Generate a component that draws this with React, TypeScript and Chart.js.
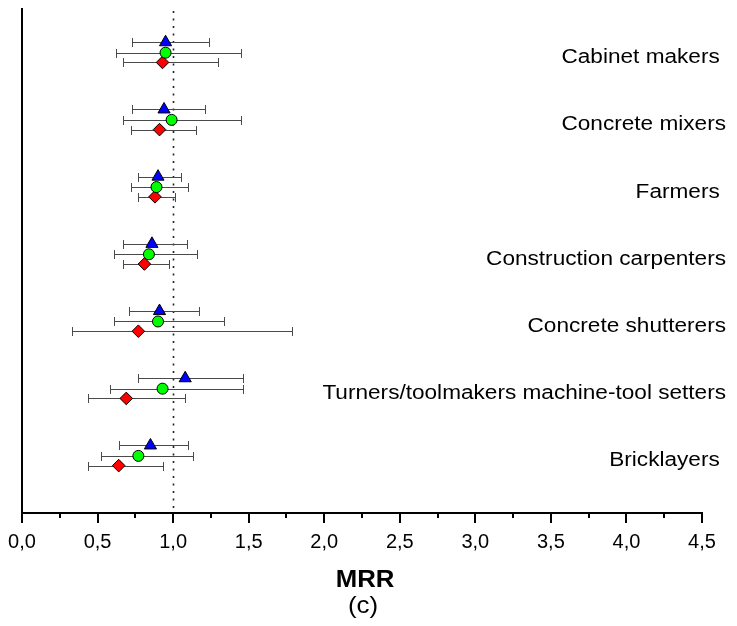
import { useEffect, useRef } from "react";
import { Chart, registerables } from "chart.js";

Chart.register(...registerables);

// Categories, top to bottom (trailing spaces as in the original labels)
const categories = [
  "Cabinet makers ",
  "Concrete mixers",
  "Farmers ",
  "Construction carpenters",
  "Concrete shutterers",
  "Turners/toolmakers machine-tool setters",
  "Bricklayers ",
];

// Blue triangles
const triangleMRR = [0.95, 0.94, 0.9, 0.86, 0.91, 1.08, 0.85];
const triangleLow = [0.73, 0.73, 0.77, 0.67, 0.71, 0.77, 0.64];
const triangleHigh = [1.24, 1.21, 1.05, 1.09, 1.17, 1.46, 1.1];

// Green circles
const circleMRR = [0.95, 0.99, 0.89, 0.84, 0.9, 0.93, 0.77];
const circleLow = [0.62, 0.67, 0.72, 0.61, 0.61, 0.58, 0.52];
const circleHigh = [1.45, 1.45, 1.1, 1.16, 1.34, 1.46, 1.13];

// Red diamonds
const diamondMRR = [0.93, 0.91, 0.88, 0.81, 0.77, 0.69, 0.64];
const diamondLow = [0.67, 0.72, 0.77, 0.67, 0.33, 0.44, 0.44];
const diamondHigh = [1.3, 1.15, 1.01, 0.97, 1.79, 1.08, 0.93];

const xMin = 0;
const xMax = 4.5;
const xStep = 0.5;
const referenceMRR = 1.0;
const xTitle = "MRR";
const panelLabel = "(c)";

const FONT = "'Liberation Sans', Arial, Helvetica, sans-serif";

function catY(i: number) {
  return categories.length - 1 - i;
}

function buildPoints(vals: number[], lo: number[], hi: number[], off: number) {
  return vals.map((v, i) => ({ x: v, y: catY(i) + off, lo: lo[i], hi: hi[i] }));
}

const extrasPlugin = {
  id: "extras",
  beforeDatasetsDraw(chart: any) {
    const { ctx, chartArea, scales } = chart;
    const xs = scales.x;
    const ys = scales.y;
    // dotted reference line
    ctx.save();
    ctx.strokeStyle = "#222";
    ctx.lineWidth = 1.6;
    ctx.setLineDash([2, 5.5]);
    const rx = Math.round(xs.getPixelForValue(referenceMRR)) + 0.5;
    ctx.beginPath();
    ctx.moveTo(rx, chartArea.top + 2);
    ctx.lineTo(rx, chartArea.bottom);
    ctx.stroke();
    ctx.restore();

    // error bars
    ctx.save();
    ctx.strokeStyle = "#4a4a4a";
    ctx.lineWidth = 1;
    chart.data.datasets.forEach((ds: any) => {
      ds.data.forEach((p: any) => {
        const y = Math.round(ys.getPixelForValue(p.y)) + 0.5;
        const x1 = Math.round(xs.getPixelForValue(p.lo)) + 0.5;
        const x2 = Math.round(xs.getPixelForValue(p.hi)) + 0.5;
        ctx.beginPath();
        ctx.moveTo(x1, y);
        ctx.lineTo(x2, y);
        ctx.moveTo(x1, y - 4.5);
        ctx.lineTo(x1, y + 4.5);
        ctx.moveTo(x2, y - 4.5);
        ctx.lineTo(x2, y + 4.5);
        ctx.stroke();
      });
    });
    ctx.restore();
  },
  afterDraw(chart: any) {
    const { ctx, chartArea, scales } = chart;
    const xs = scales.x;
    const ys = scales.y;
    // minor ticks
    ctx.save();
    ctx.strokeStyle = "#000";
    ctx.lineWidth = 2;
    for (let v = xMin + xStep / 2; v < xMax; v += xStep) {
      const x = Math.round(xs.getPixelForValue(v));
      ctx.beginPath();
      ctx.moveTo(x, chartArea.bottom);
      ctx.lineTo(x, chartArea.bottom + 5);
      ctx.stroke();
    }
    ctx.restore();

    // category labels
    ctx.save();
    ctx.fillStyle = "#000";
    ctx.font = `20px ${FONT}`;
    ctx.textAlign = "right";
    ctx.textBaseline = "middle";
    categories.forEach((c, i) => {
      const y = ys.getPixelForValue(catY(i)) + 5;
      ctx.save();
      ctx.translate(718, y);
      ctx.scale(1.13, 1);
      ctx.fillText(c, 0, 0);
      ctx.restore();
    });

    // axis title and panel label
    const cx = (chartArea.left + chartArea.right) / 2 + 3;
    ctx.textAlign = "center";
    ctx.save();
    ctx.translate(cx, 573);
    ctx.scale(1.12, 1);
    ctx.font = `bold 23px ${FONT}`;
    ctx.fillText(xTitle, 0, 0);
    ctx.restore();
    ctx.save();
    ctx.translate(cx - 2, 598);
    ctx.scale(1.08, 1);
    ctx.font = `24px ${FONT}`;
    ctx.fillText(panelLabel, 0, 0);
    ctx.restore();
    ctx.restore();
  },
};

export default function App() {
  const ref = useRef<HTMLCanvasElement | null>(null);
  useEffect(() => {
    if (!ref.current) return;
    const chart = new Chart(ref.current, {
      type: "scatter",
      data: {
        datasets: [
          {
            label: "triangle",
            data: buildPoints(triangleMRR, triangleLow, triangleHigh, 0.155),
            pointStyle: "triangle",
            pointRadius: 7,
            backgroundColor: "#0000ff",
            borderColor: "#000",
            borderWidth: 1,
          },
          {
            label: "circle",
            data: buildPoints(circleMRR, circleLow, circleHigh, 0),
            pointStyle: "circle",
            pointRadius: 5.5,
            backgroundColor: "#00ff00",
            borderColor: "#000",
            borderWidth: 1,
          },
          {
            label: "diamond",
            data: buildPoints(diamondMRR, diamondLow, diamondHigh, -0.145),
            pointStyle: "rectRot",
            pointRadius: 6.3,
            backgroundColor: "#ff0000",
            borderColor: "#000",
            borderWidth: 1,
          },
        ] as any,
      },
      options: {
        animation: false,
        responsive: true,
        maintainAspectRatio: false,
        layout: { autoPadding: false, padding: { left: 14, right: 27, top: 1, bottom: 65 } },
        plugins: {
          legend: { display: false },
          tooltip: { enabled: false },
          title: { display: false },
        },
        scales: {
          x: {
            type: "linear",
            min: xMin,
            max: xMax,
            afterFit: (s: any) => {
              s.height = 40;
              s.paddingLeft = 0;
              s.paddingRight = 0;
              s.paddingTop = 0;
              s.paddingBottom = 0;
            },
            border: { display: true, color: "#000", width: 2 },
            grid: {
              display: true,
              drawOnChartArea: false,
              drawTicks: true,
              tickLength: 10,
              color: "#000",
              lineWidth: 2,
            },
            ticks: {
              stepSize: xStep,
              autoSkip: false,
              maxRotation: 0,
              padding: 7,
              color: "#000",
              font: { size: 20, family: FONT },
              callback: (v: any) => Number(v).toFixed(1).replace(".", ","),
            },
          },
          y: {
            type: "linear",
            min: -0.85,
            max: 6.65,
            afterFit: (s: any) => {
              s.width = 0;
              s.paddingLeft = 0;
              s.paddingRight = 0;
              s.paddingTop = 0;
              s.paddingBottom = 0;
            },
            border: { display: true, color: "#000", width: 2 },
            grid: { display: false },
            ticks: { display: false },
          },
        },
      },
      plugins: [extrasPlugin],
    });
    return () => chart.destroy();
  }, []);
  return (
    <div style={{ width: 721, height: 610, position: "relative" }}>
      <canvas ref={ref} />
    </div>
  );
}
